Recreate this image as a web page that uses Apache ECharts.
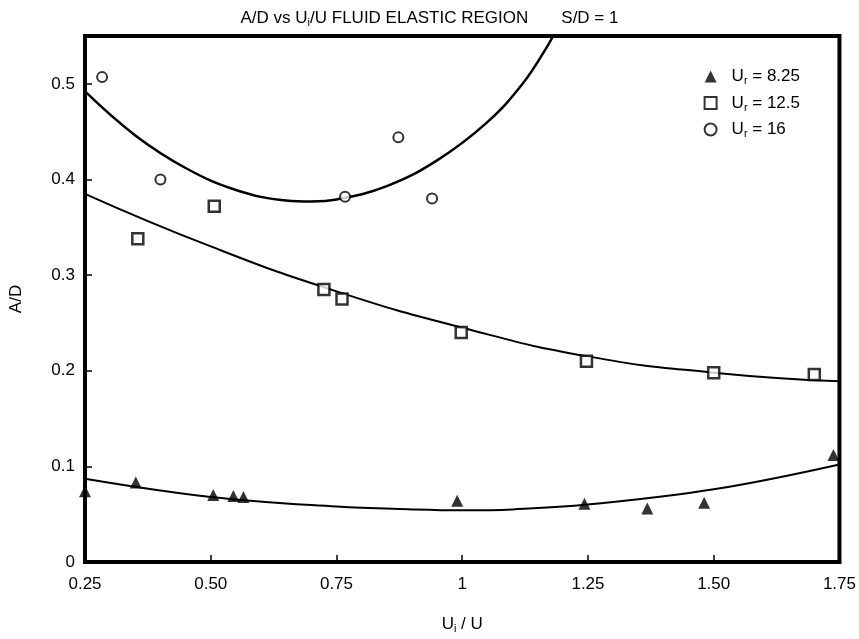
<!DOCTYPE html>
<html>
<head>
<meta charset="utf-8">
<script src="https://cdn.jsdelivr.net/npm/echarts@6/dist/echarts.min.js"></script>
<style>
  html, body { margin: 0; padding: 0; background: #fff; }
  #chart { width: 859px; height: 639px; }
</style>
</head>
<body>
<div id="chart"></div>
<script>
// measured points (x = Ui/U, y = A/D)
var ur825 = [[0.25, 0.074], [0.351, 0.083], [0.505, 0.070], [0.545, 0.069], [0.565, 0.068],
             [0.99, 0.064], [1.243, 0.061], [1.368, 0.056], [1.481, 0.062], [1.738, 0.112]];
var ur125 = [[0.355, 0.338], [0.507, 0.372], [0.725, 0.285], [0.761, 0.275],
             [0.998, 0.240], [1.247, 0.210], [1.50, 0.198], [1.70, 0.196]];
var ur16 = [[0.284, 0.507], [0.40, 0.40], [0.767, 0.382], [0.873, 0.444], [0.94, 0.38]];

// fitted curves
var fit825 = [[0.25, 0.087], [0.5, 0.068], [0.75, 0.058], [0.9, 0.055], [1.0, 0.054], [1.1, 0.055],
              [1.25, 0.060], [1.5, 0.076], [1.75, 0.102]];
var fit125 = [[0.25, 0.385], [0.5, 0.330], [0.75, 0.283], [1.0, 0.245], [1.25, 0.215], [1.5, 0.198], [1.75, 0.189]];
var fit16 = [[0.25, 0.492], [0.35, 0.446], [0.45, 0.412], [0.55, 0.389], [0.65, 0.378], [0.70, 0.377],
             [0.75, 0.379], [0.85, 0.393], [0.95, 0.420], [1.05, 0.460], [1.12, 0.500], [1.17, 0.540], [1.19, 0.560]];

var xLabels = ['0.25', '0.50', '0.75', '1', '1.25', '1.50', '1.75'];
var yLabels = ['0', '0.1', '0.2', '0.3', '0.4', '0.5'];

var font = "'Liberation Sans', Arial, sans-serif";
var rich = {
    b: { fontSize: 17, fontFamily: font, fontWeight: 'normal', color: '#000' },
    s: { fontSize: 11, fontFamily: font, fontWeight: 'normal', color: '#000', verticalAlign: 'bottom', padding: [9, 0, 0, 0] }
};

var option = {
    animation: false,
    backgroundColor: '#fff',
    title: {
        text: '{b|A/D vs U}{s|i}{b|/U FLUID ELASTIC REGION       S/D = 1}',
        left: 'center',
        top: 3,
        textStyle: { rich: rich, fontWeight: 'normal' }
    },
    legend: {
        orient: 'vertical',
        right: 54,
        top: 63,
        itemGap: 8,
        itemWidth: 12,
        itemHeight: 12,
        data: [
            { name: 'Ur = 8.25', icon: 'triangle' },
            { name: 'Ur = 12.5', icon: 'rect' },
            { name: 'Ur = 16', icon: 'circle' }
        ],
        formatter: function (name) {
            return '{b|U}{s|r}{b| = ' + name.split('= ')[1] + '}';
        },
        textStyle: { rich: rich, padding: [0, 0, 0, 10] }
    },
    grid: {
        left: 85,
        right: 13,
        top: 36,
        bottom: 74,
        show: true,
        borderColor: '#000',
        borderWidth: 4
    },
    xAxis: {
        type: 'value',
        min: 0.25,
        max: 1.75,
        interval: 0.25,
        name: '{b|U}{s|i}{b| / U}',
        nameLocation: 'middle',
        nameGap: 52,
        nameTextStyle: { rich: rich },
        axisLine: { lineStyle: { color: '#000', width: 4 } },
        axisTick: { inside: true, length: 7, lineStyle: { color: '#000', width: 1.5 } },
        axisLabel: {
            margin: 14,
            fontSize: 17,
            fontFamily: font,
            color: '#000',
            formatter: function (v) { return xLabels[Math.round((v - 0.25) / 0.25)]; }
        },
        splitLine: { show: false }
    },
    yAxis: {
        type: 'value',
        min: 0,
        max: 0.55,
        interval: 0.1,
        name: 'A/D',
        nameLocation: 'middle',
        nameGap: 60,
        nameRotate: 90,
        nameTextStyle: { fontSize: 17, fontFamily: font, color: '#000' },
        axisLine: { lineStyle: { color: '#000', width: 4 } },
        axisTick: { inside: true, length: 7, lineStyle: { color: '#000', width: 1.5 } },
        axisLabel: {
            margin: 10,
            fontSize: 17,
            fontFamily: font,
            color: '#000',
            showMaxLabel: false,
            formatter: function (v) {
                var i = Math.round(v / 0.1);
                return Math.abs(v - i * 0.1) < 1e-6 ? yLabels[i] : '';
            }
        },
        splitLine: { show: false }
    },
    series: [
        {
            name: 'fit 8.25', type: 'line', data: fit825, smooth: 0.4, showSymbol: false,
            lineStyle: { color: '#000', width: 2 }, z: 2
        },
        {
            name: 'fit 12.5', type: 'line', data: fit125, smooth: true, showSymbol: false,
            lineStyle: { color: '#000', width: 2 }, z: 2
        },
        {
            name: 'fit 16', type: 'line', data: fit16, smooth: 0.4, showSymbol: false,
            lineStyle: { color: '#000', width: 2.5 }, z: 2
        },
        {
            name: 'Ur = 8.25', type: 'scatter', data: ur825, symbol: 'triangle', symbolSize: 12,
            itemStyle: { color: '#000' }, z: 3
        },
        {
            name: 'Ur = 12.5', type: 'scatter', data: ur125, symbol: 'rect', symbolSize: 11,
            itemStyle: { color: '#fff', borderColor: '#000', borderWidth: 2.5 }, z: 3
        },
        {
            name: 'Ur = 16', type: 'scatter', data: ur16, symbol: 'circle', symbolSize: 10,
            itemStyle: { color: '#fff', borderColor: '#000', borderWidth: 2 }, z: 3
        }
    ]
};

var chart = echarts.init(document.getElementById('chart'));
chart.setOption(option);
</script>
</body>
</html>
